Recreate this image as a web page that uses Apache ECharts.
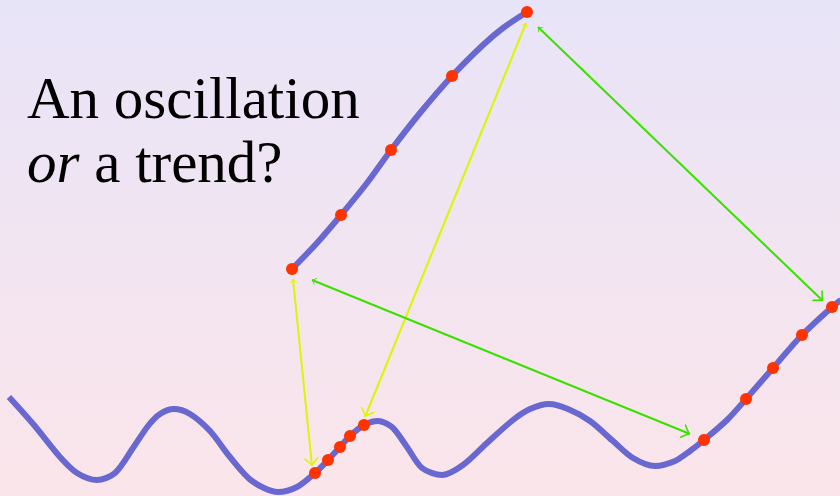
<!DOCTYPE html>
<html>
<head>
<meta charset="utf-8">
<script src="https://cdn.jsdelivr.net/npm/echarts@6/dist/echarts.min.js"></script>
<style>html,body{margin:0;padding:0;}#c{width:840px;height:496px;}</style>
</head>
<body>
<div id="c"></div>
<script>
// Oscillating series (x, y in picture units, y grows downward)
var oscillation = [
  [9,397],[34,425],[60,457],[77,473],[97,480],[115,473],[133,448],[148,426],[160,414],[174,409],
  [190,414],[210,431],[230,457],[252,481],[278,492],[297,487],[315,473],[328,460],[340,447],
  [350,436],[364,425],[378,421],[392,427],[407,447],[422,468],[442,475],[463,465],[487,443],
  [513,420],[530,409],[549,404],[568,409],[590,421],[613,441],[633,458],[655,466],[675,461],
  [690,451],[704,440],[727,420],[746,399],[773,368],[802,335],[832,307],[841,300]
];
// Magnified piece of the oscillation
var magnified = [
  [292,269],[317,243],[341,215],[367,183],[391,150],[420,113],[452,76],[483,45],[503,28],[527,12]
];
// Sample points
var dotsBottom = [[315,473],[328,460],[340,447],[350,436],[364,425]];
var dotsMagnified = [[292,269],[341,215],[391,150],[452,76],[527,12]];
var dotsRight = [[704,440],[746,399],[773,368],[802,335],[832,307]];
// Connecting arrows (both ends)
var yellowArrows = [
  [[293,279],[312,466]],
  [[526,23],[365,417]]
];
var greenArrows = [
  [[312,280],[690,434]],
  [[538,27],[823,301]]
];
var titleLine1 = 'An oscillation';
var titleLine2Italic = 'or';
var titleLine2Rest = ' a trend?';

var chevron = 'path://M5,0 L5.01,0.01 Z M5,10 L10,20 L8.6,20 L5,12.6 L1.4,20 L0,20 Z';

var chart = echarts.init(document.getElementById('c'), null, {renderer: 'canvas'});
function arrowData(arr) {
  return arr.map(function (a) { return {coords: a}; });
}
chart.setOption({
  animation: false,
  backgroundColor: {
    type: 'linear', x: 0, y: 0, x2: 0, y2: 1,
    colorStops: [{offset: 0, color: '#e8e4f8'}, {offset: 1, color: '#fbe5ea'}]
  },
  grid: {left: 0, right: 0, top: 0, bottom: 0},
  xAxis: {type: 'value', min: 0, max: 840, show: false},
  yAxis: {type: 'value', min: 0, max: 496, inverse: true, show: false},
  graphic: [
    {
      type: 'text', left: 27, top: 73, z: 10,
      style: {text: titleLine1, font: '59px "Liberation Serif"', fill: '#000'}
    },
    {
      type: 'text', left: 27, top: 137, z: 10,
      style: {
        text: '{i|' + titleLine2Italic + '}{n|' + titleLine2Rest + '}',
        fill: '#000',
        rich: {
          i: {font: 'italic 59px "Liberation Serif"', fill: '#000'},
          n: {font: '59px "Liberation Serif"', fill: '#000'}
        }
      }
    }
  ],
  series: [
    {
      type: 'line', data: oscillation, smooth: 0.3, showSymbol: false, z: 2,
      lineStyle: {color: '#6868d0', width: 6, cap: 'butt', join: 'round'}
    },
    {
      type: 'line', data: magnified, smooth: 0.3, showSymbol: false, z: 2,
      lineStyle: {color: '#6868d0', width: 6, join: 'round'}
    },
    {
      type: 'lines', coordinateSystem: 'cartesian2d', z: 3,
      symbol: [chevron, chevron], symbolSize: [8, 16],
      lineStyle: {color: '#dcf500', width: 2, opacity: 1},
      data: arrowData(yellowArrows)
    },
    {
      type: 'lines', coordinateSystem: 'cartesian2d', z: 3,
      symbol: [chevron, chevron], symbolSize: [8, 16],
      lineStyle: {color: '#3ae000', width: 2, opacity: 1},
      data: arrowData(greenArrows)
    },
    {
      type: 'scatter', data: dotsBottom.concat(dotsMagnified, dotsRight), z: 4,
      symbolSize: 12, itemStyle: {color: '#ff3300', opacity: 1}
    }
  ]
});
</script>
</body>
</html>
